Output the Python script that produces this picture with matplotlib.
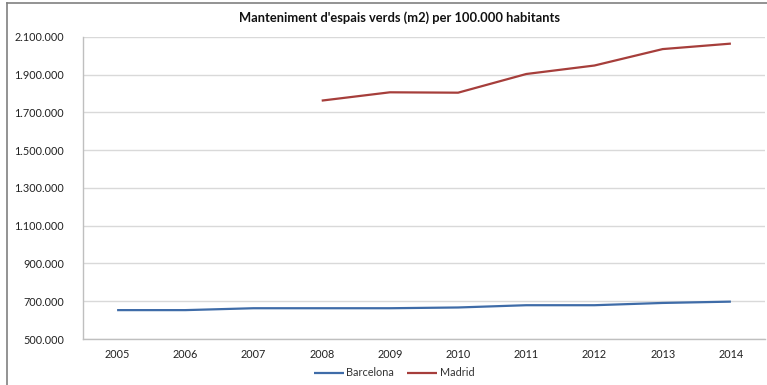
import numpy as np
import matplotlib.pyplot as plt
from matplotlib.lines import Line2D
from matplotlib.ticker import FuncFormatter

years = ['2005', '2006', '2007', '2008', '2009', '2010', '2011', '2012', '2013', '2014']
barcelona = [653000, 653000, 663000, 663000, 663000, 667000, 679000, 679000, 691000, 698000]
madrid = [np.nan, np.nan, np.nan, 1763000, 1807000, 1805000, 1904000, 1949000, 2036000, 2065000]

plt.rcParams['font.family'] = ['Lato', 'DejaVu Sans']

fig = plt.figure(figsize=(7.67, 3.85), dpi=100)
ax = fig.add_axes([83 / 767, 1 - 339 / 385, (765 - 83) / 767, (339 - 37) / 385])

x = np.arange(len(years))
ax.plot(x, barcelona, color='#3f6ca8', lw=1.6, label='Barcelona', solid_capstyle='butt')
ax.plot(x, madrid, color='#a63e3b', lw=1.6, label='Madrid', solid_capstyle='butt')

ax.set_xlim(-0.5, len(years) - 0.5)
ax.set_ylim(500000, 2100000)
ax.set_yticks(np.arange(500000, 2100001, 200000))
ax.yaxis.set_major_formatter(FuncFormatter(lambda v, p: f"{int(v):,}".replace(",", ".")))
ax.set_xticks(x)
ax.set_xticklabels(years)

ax.grid(axis='y', color='#d9d9d9', lw=1)
ax.set_axisbelow(True)
for s in ['top', 'right']:
    ax.spines[s].set_visible(False)
for s in ['left', 'bottom']:
    ax.spines[s].set_color('#bfbfbf')
    ax.spines[s].set_linewidth(1)
ax.tick_params(length=0, labelsize=7.8, colors='#222222')
ax.tick_params(axis='y', pad=13.5)
ax.tick_params(axis='x', pad=7.5)

fig.text(399 / 767, 1 - 18 / 385, "Manteniment d'espais verds (m2) per 100.000 habitants",
         ha='center', va='center', fontsize=9.3, fontweight='bold', color='#111111')

fig.legend(loc='center', bbox_to_anchor=(394 / 767, 1 - 373 / 385), ncol=2, frameon=False,
           fontsize=7.8, handlelength=2.8, handletextpad=0.2, columnspacing=1.2,
           labelcolor='#333333')

# marc del gràfic
fig.add_artist(Line2D([7 / 767, 7 / 767], [0, 1 - 3 / 385], color='#808080', lw=1.2))
fig.add_artist(Line2D([7 / 767, 1], [1 - 3 / 385, 1 - 3 / 385], color='#808080', lw=1.2))

plt.savefig("out.png")
